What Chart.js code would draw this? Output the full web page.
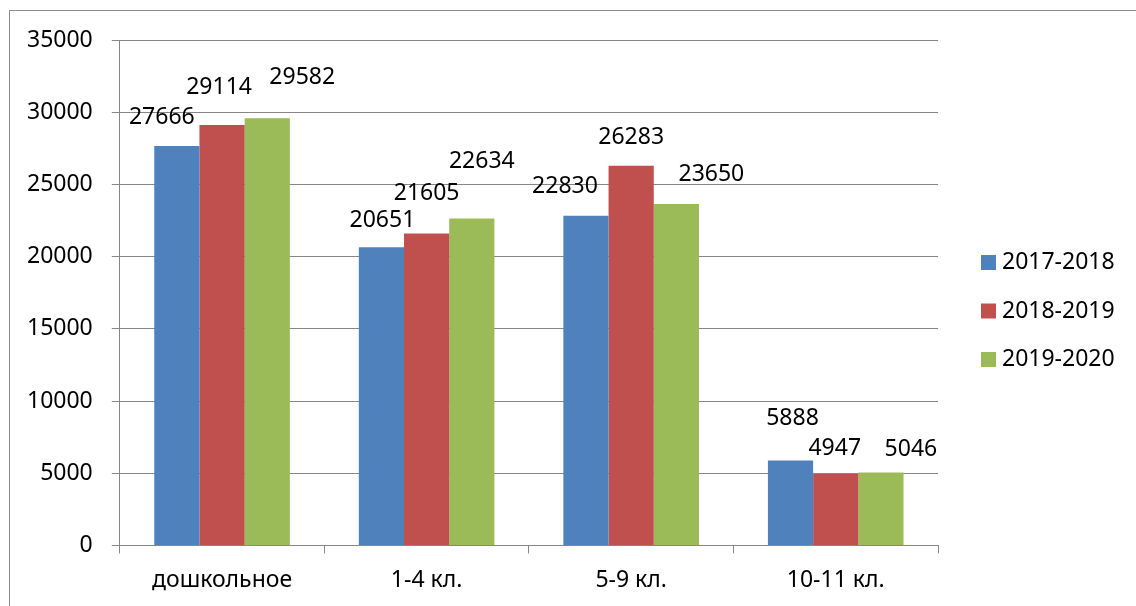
<!DOCTYPE html>
<html>
<head>
<meta charset="utf-8">
<script src="https://cdn.jsdelivr.net/npm/chart.js@4/dist/chart.umd.min.js"></script>
<style>
  html, body { margin: 0; padding: 0; background: #fff; }
  #wrap { position: relative; width: 1136px; height: 606px; overflow: hidden; }
  #frame { position: absolute; left: 9px; top: 10px; width: 1200px; height: 700px;
           border-left: 1px solid #8c8c8c; border-top: 1px solid #8c8c8c; box-sizing: border-box; }
  #chart { position: absolute; left: 0; top: 0; }
</style>
</head>
<body>
<div id="wrap">
  <div id="frame"></div>
  <canvas id="chart" width="1136" height="606"></canvas>
</div>
<script>
/* ===== DATA ===== */
const categories = ['дошкольное', '1-4 кл.', '5-9 кл.', '10-11 кл.'];
const seriesNames = ['2017-2018', '2018-2019', '2019-2020'];
const values2017 = [27666, 20651, 22830, 5888];
const values2018 = [29114, 21605, 26283, 4947];
const values2019 = [29582, 22634, 23650, 5046];
const yTicks = [0, 5000, 10000, 15000, 20000, 25000, 30000, 35000];

/* ===== STYLE ===== */
const colors   = ['#4F81BD', '#C0504D', '#9BBB59'];
const gridGray = '#868686';
const FONT     = '"Noto Sans", "Open Sans", sans-serif';
const FSIZE    = 23;

// where each value label sits relative to the top centre of its bar (px)
const labelDX = [[-15, 1, -21, 2], [-3, 0, 0, -1], [35, 10, 35, 30]];
const labelDY = [[-28, -27, -29, -42], [-38, -40, -28, -26], [-41, -57, -29, -23]];

const valueLabels = {
  id: 'valueLabels',
  afterDatasetsDraw(chart) {
    const ctx = chart.ctx;
    ctx.save();
    ctx.font = FSIZE + 'px ' + FONT;
    ctx.fillStyle = '#000';
    ctx.textAlign = 'center';
    ctx.textBaseline = 'middle';
    chart.data.datasets.forEach((ds, i) => {
      chart.getDatasetMeta(i).data.forEach((bar, j) => {
        ctx.fillText(String(ds.data[j]), bar.x + labelDX[i][j], bar.y + labelDY[i][j]);
      });
    });
    ctx.restore();
  }
};

const sideLegend = {
  id: 'sideLegend',
  afterDraw(chart) {
    const ctx = chart.ctx;
    const boxX = chart.chartArea.right + 43;
    const midY = 311, step = 48.5;
    ctx.save();
    ctx.font = FSIZE + 'px ' + FONT;
    ctx.textBaseline = 'middle';
    ctx.textAlign = 'left';
    chart.data.datasets.forEach((ds, i) => {
      const cy = midY + (i - 1) * step;
      ctx.fillStyle = ds.backgroundColor;
      ctx.fillRect(boxX, cy - 7.5, 15, 15);
      ctx.fillStyle = '#000';
      ctx.fillText(ds.label, boxX + 21, cy);
    });
    ctx.restore();
  }
};

const seriesValues = [values2017, values2018, values2019];

new Chart(document.getElementById('chart'), {
  type: 'bar',
  data: {
    labels: categories,
    datasets: seriesNames.map((name, i) => ({
      label: name,
      data: seriesValues[i],
      backgroundColor: colors[i],
      borderWidth: 0,
      categoryPercentage: 0.663,
      barPercentage: 1.0
    }))
  },
  options: {
    responsive: false,
    animation: false,
    devicePixelRatio: 1,
    layout: { padding: { left: 8, top: 40, right: 198, bottom: -1 } },
    plugins: { legend: { display: false }, tooltip: { enabled: false } },
    scales: {
      x: {
        grid: { drawOnChartArea: false, drawTicks: true, tickLength: 8, color: gridGray, offset: true },
        border: { color: gridGray, width: 1 },
        ticks: { color: '#000', font: { family: FONT, size: FSIZE }, padding: 13, maxRotation: 0 }
      },
      y: {
        min: 0, max: 35000,
        afterBuildTicks(scale) { scale.ticks = yTicks.map(v => ({ value: v })); },
        grid: { color: gridGray, tickLength: 8 },
        border: { color: gridGray, width: 1 },
        ticks: { color: '#000', font: { family: FONT, size: FSIZE }, padding: 19,
                 callback: v => String(v) }
      }
    }
  },
  plugins: [valueLabels, sideLegend]
});
</script>
</body>
</html>
